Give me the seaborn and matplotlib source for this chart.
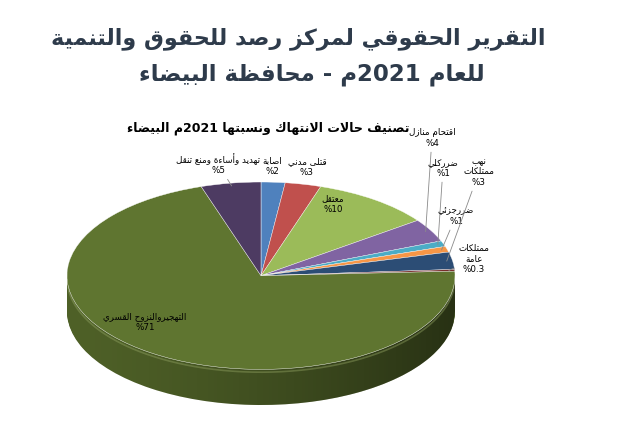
import re
import numpy as np
import matplotlib
matplotlib.use('Agg')
import matplotlib.pyplot as plt
from matplotlib.patches import Polygon
import matplotlib.colors as mcolors
import seaborn as sns

# data, clockwise from 12 o'clock (Excel order)
categories = ['اصابة', 'قتلى مدني', 'معتقل', 'اقتحام منازل', 'ضرركلي', 'ضررجزئي',
              'نهب\nممتلكات', 'ممتلكات\nعامة', 'التهجيروالنزوح القسري', 'تهديد وأساءة ومنع تنقل']
values = [2, 3, 10, 4, 1, 1, 3, 0.3, 71, 5]
pct_labels = ['2%', '3%', '10%', '4%', '1%', '1%', '3%', '0.3%', '71%', '5%']
colors = ['#4F81BD', '#C0504D', '#9BBB59', '#8064A2', '#4BACC6', '#F79646',
          '#2C4D75', '#772C2A', '#5F7530', '#4D3B62']

title1 = 'التقرير الحقوقي لمركز رصد للحقوق والتنمية'
title2 = 'للعام 2021م - محافظة البيضاء'
chart_title = 'تصنيف حالات الانتهاك ونسبتها 2021م البيضاء'

# label centres in pixels (from top-left) and whether they get a leader line
label_pos = [(272, 166), (307, 167), (333, 204), (432, 138), (443, 168), (456, 216),
             (479, 172), (474, 259), (145, 322), (218, 164)]
leader = [False, False, False, True, True, True, True, True, False, True]


# --- minimal arabic shaping + visual ordering (no arabic_reshaper offline) ---
FORMS = {
    'ء': (0xFE80, 1), 'آ': (0xFE81, 2), 'أ': (0xFE83, 2), 'ؤ': (0xFE85, 2),
    'إ': (0xFE87, 2), 'ئ': (0xFE89, 4), 'ا': (0xFE8D, 2), 'ب': (0xFE8F, 4),
    'ة': (0xFE93, 2), 'ت': (0xFE95, 4), 'ث': (0xFE99, 4), 'ج': (0xFE9D, 4),
    'ح': (0xFEA1, 4), 'خ': (0xFEA5, 4), 'د': (0xFEA9, 2), 'ذ': (0xFEAB, 2),
    'ر': (0xFEAD, 2), 'ز': (0xFEAF, 2), 'س': (0xFEB1, 4), 'ش': (0xFEB5, 4),
    'ص': (0xFEB9, 4), 'ض': (0xFEBD, 4), 'ط': (0xFEC1, 4), 'ظ': (0xFEC5, 4),
    'ع': (0xFEC9, 4), 'غ': (0xFECD, 4), 'ف': (0xFED1, 4), 'ق': (0xFED5, 4),
    'ك': (0xFED9, 4), 'ل': (0xFEDD, 4), 'م': (0xFEE1, 4), 'ن': (0xFEE5, 4),
    'ه': (0xFEE9, 4), 'و': (0xFEED, 2), 'ى': (0xFEEF, 2), 'ي': (0xFEF1, 4),
}
LAMALEF = {'آ': 0xFEF5, 'أ': 0xFEF7, 'إ': 0xFEF9, 'ا': 0xFEFB}


def shape(text):
    out = []
    i, n = 0, len(text)
    while i < n:
        c = text[i]
        if c not in FORMS:
            out.append(c)
            i += 1
            continue
        prev = text[i - 1] if i > 0 else ''
        con_prev = prev in FORMS and FORMS[prev][1] == 4
        if c == 'ل' and i + 1 < n and text[i + 1] in LAMALEF:
            out.append(chr(LAMALEF[text[i + 1]] + (1 if con_prev else 0)))
            i += 2
            continue
        nxt = text[i + 1] if i + 1 < n else ''
        con_next = FORMS[c][1] == 4 and nxt in FORMS and FORMS[nxt][1] != 1
        base, nforms = FORMS[c]
        if nforms == 1:
            off = 0
        elif con_prev and con_next:
            off = 3
        elif con_prev:
            off = 1
        elif con_next:
            off = 2
        else:
            off = 0
        out.append(chr(base + off))
        i += 1
    return ''.join(out)


def ar(text):
    lines = []
    for line in text.split('\n'):
        s = shape(line)[::-1]
        s = re.sub(r'[0-9.]+', lambda m: m.group()[::-1], s)
        lines.append(s)
    return '\n'.join(lines)


sns.set_theme(style='white')
plt.rcParams['font.family'] = ['DejaVu Sans']

W, H = 634, 425
fig = plt.figure(figsize=(W / 100, H / 100), dpi=100)
fig.patch.set_facecolor('white')


def px(x, y):
    return x / W, 1 - y / H


fig.text(*px(298, 39), ar(title1), ha='center', va='center', fontsize=16,
         fontweight='bold', color='#2e3b4b')
fig.text(*px(312, 75), ar(title2), ha='center', va='center', fontsize=16.5,
         fontweight='bold', color='#2e3b4b')
fig.text(*px(268, 128), ar(chart_title), ha='center', va='center', fontsize=9,
         fontweight='bold', color='black')

# pie axes: ellipse box 67..455 x, 182..369 y, wall down to 405
depth = 0.38
ax = fig.add_axes([67 / W, (H - 405) / H, 388 / W, 223 / H])
ax.axis('off')

wall_cols = [mcolors.to_hex(np.array(mcolors.to_rgb(c)) * 0.82) for c in colors]
for off in np.linspace(depth, 0.01, 36):
    ax.pie(values, colors=wall_cols, startangle=90, counterclock=False,
           center=(0, -off), radius=1, wedgeprops=dict(linewidth=0))

# shading across the side wall
xs = np.linspace(-1, 1, 200)
top_edge = np.column_stack([xs, -np.sqrt(1 - xs ** 2)])
bot_edge = np.column_stack([xs[::-1], -np.sqrt(1 - xs[::-1] ** 2) - depth])
wall = Polygon(np.vstack([top_edge, bot_edge]), closed=True, facecolor='none', edgecolor='none')
ax.add_patch(wall)
grad = np.zeros((2, 256, 4))
grad[..., 3] = np.linspace(0.0, 0.6, 256) ** 1.4
hl = ax.imshow(grad, extent=(-1, 1, -1 - depth, 0), aspect='auto', zorder=3)
hl.set_clip_path(wall)
# light rim along the front edge of the top face
ax.plot(xs, -np.sqrt(1 - xs ** 2) - 0.03, color='#8fa060', lw=1.2, alpha=0.45, zorder=3.5)

wedges, _ = ax.pie(values, colors=colors, startangle=90, counterclock=False,
                   center=(0, 0), radius=1, wedgeprops=dict(linewidth=0.3, edgecolor='white'))
for w in wedges:
    w.set_zorder(4)

ax.set_xlim(-1, 1)
ax.set_ylim(-1 - depth, 1)
ax.set_aspect('auto')

total = sum(values)
cum = 0
for i, v in enumerate(values):
    theta = np.deg2rad(90 - 360 * (cum + v / 2) / total)
    cum += v
    txt = ar(categories[i] + '\n' + pct_labels[i])
    lx, ly = label_pos[i]
    if leader[i]:
        ax.annotate(txt, xy=(0.97 * np.cos(theta), 0.97 * np.sin(theta)), xycoords='data',
                    xytext=(lx, H - ly), textcoords='figure pixels', ha='center', va='center',
                    fontsize=6.3, color='black', zorder=6, annotation_clip=False,
                    linespacing=1.15,
                    arrowprops=dict(arrowstyle='-', color='#8a8a8a', lw=0.6,
                                    shrinkA=1, shrinkB=0))
    else:
        fig.text(*px(lx, ly), txt, ha='center', va='center', fontsize=6.3, color='black',
                 zorder=6, linespacing=1.15)

fig.savefig('out.png', dpi=100, facecolor='white')
